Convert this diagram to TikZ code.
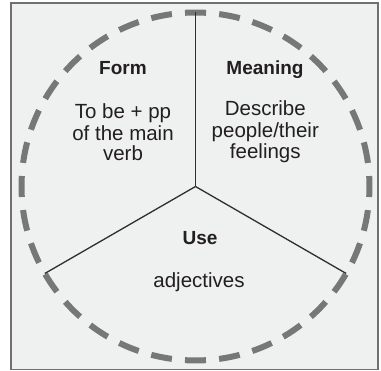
\documentclass[tikz,border=0pt]{standalone}
\usepackage{fontspec}
\usetikzlibrary{calc}
\setmainfont{Liberation Sans}
\definecolor{bgfill}{HTML}{EFF0F0}
\definecolor{frame}{HTML}{707070}
\definecolor{dashc}{HTML}{767878}
\definecolor{linec}{HTML}{2E2E2E}
\definecolor{txt}{HTML}{231F20}
\begin{document}
\begin{tikzpicture}[x=1pt,y=1pt,
  title/.style={anchor=base,inner sep=0pt,text=txt,font=\fontsize{19}{21}\selectfont\bfseries},
  body/.style={anchor=base,inner sep=0pt,text=txt,font=\fontsize{20.5}{22}\selectfont},
  spoke/.style={draw=linec,line width=1.3pt},
  ring/.style={draw=dashc,line width=6pt,dash pattern=on 21pt off 13.165pt}]
\useasboundingbox (0,0) rectangle (381,371);
\fill[white] (0,0) rectangle (381,371);
\draw[fill=bgfill,draw=frame,line width=1.6pt] (11,1.5) rectangle (378,368);
\coordinate (c) at (195.5,184.5);
\coordinate (t) at ($(c)+(90:174)$);
\coordinate (l) at ($(c)+(210:174)$);
\coordinate (r) at ($(c)+(330:174)$);
\draw[ring] ($(c)+(86.543:174)$) arc[start angle=86.543,end angle=446.543,radius=174];
\draw[spoke] (c) -- (t);
\draw[spoke] (c) -- (l);
\draw[spoke] (c) -- (r);
\node[title] (form) at (123,296) {Form};
\node[body] (f1) at (123,252.7) {To be + pp};
\node[body] (f2) at (123,230.3) {of the main};
\node[body] (f3) at (123,210) {verb};
\node[title] (mean) at (265,296.7) {Meaning};
\node[body] (m1) at (265.3,255) {Describe};
\node[body] (m2) at (265.3,233.5) {people/their};
\node[body] (m3) at (265.3,212) {feelings};
\node[title] (use) at (200,126.7) {Use};
\node[body] (u1) at (199,83.3) {adjectives};
\end{tikzpicture}
\end{document}
